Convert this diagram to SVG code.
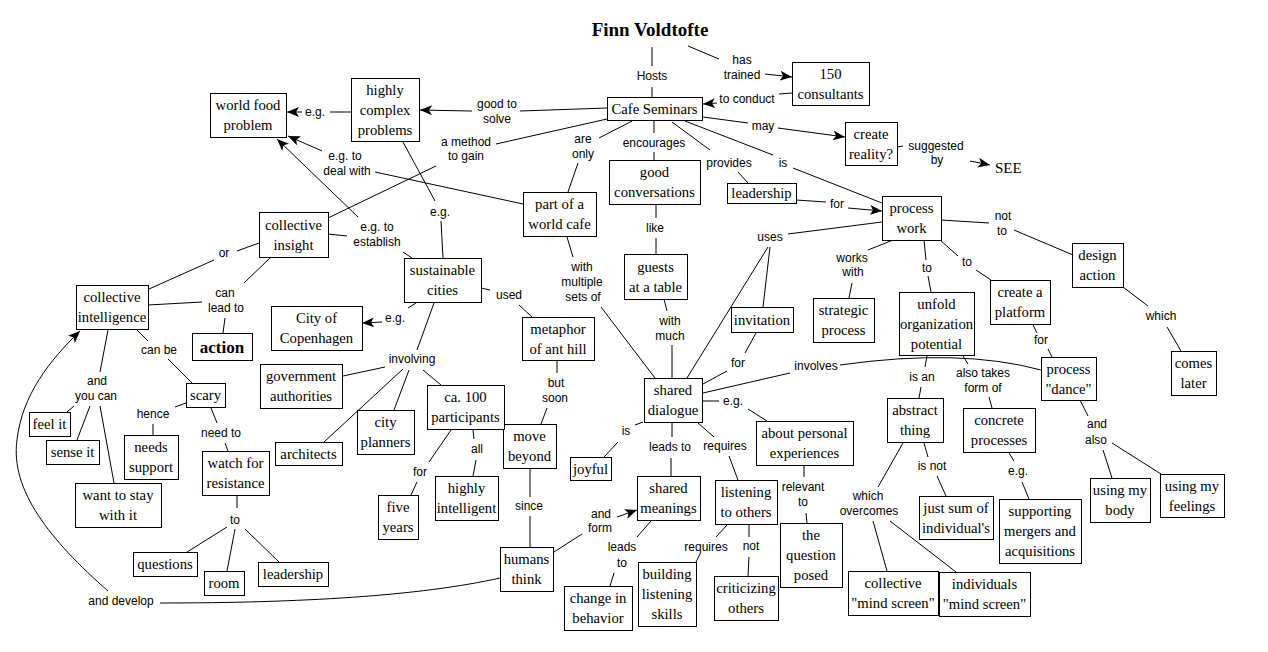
<svg xmlns="http://www.w3.org/2000/svg" width="1268" height="652" viewBox="0 0 1268 652">
<style>
.node rect{fill:#fff;stroke:#000;stroke-width:1;shape-rendering:crispEdges}
.node text{font-family:"Liberation Serif","Times New Roman",serif;font-size:14.7px;text-anchor:middle;fill:#000}
.lab text{font-family:"Liberation Sans",Arial,sans-serif;font-size:12px;text-anchor:middle;fill:#000}
#connectors path{fill:none;stroke:#000;stroke-width:1}
.ar{marker-end:url(#arr)}
</style>
<defs>
<marker id="arr" viewBox="0 0 12 10" refX="12" refY="5" markerWidth="12" markerHeight="10" orient="auto" markerUnits="userSpaceOnUse"><path d="M0,0 L12,5 L0,10 L3,5 z" fill="#000"/></marker>
</defs>
<rect width="1268" height="652" fill="#fff"/>
<g id="connectors">
<path d="M652,47 L652,66"/>
<path d="M652,87 L652,97"/>
<path d="M688,46 L719,59"/>
<path class="ar" d="M765,74 L792,77"/>
<path d="M792,93 L779,94"/>
<path class="ar" d="M717,103 L703,104"/>
<path d="M703,117 L748,123"/>
<path class="ar" d="M778,128 L845,137"/>
<path d="M897,147 L903,146"/>
<path class="ar" d="M970,161 L990,165"/>
<path d="M685,121 L773,155"/>
<path d="M793,168 L882,203"/>
<path d="M672,122 L710,150"/>
<path d="M738,172 L748,183"/>
<path d="M796,200 L826,202"/>
<path class="ar" d="M848,208 L882,211"/>
<path d="M654,121 L654,133"/>
<path d="M654,152 L654,160"/>
<path d="M656,204 L656,218"/>
<path d="M656,238 L656,254"/>
<path d="M664,299 L667,311"/>
<path d="M672,345 L672,378"/>
<path d="M632,121 L599,138"/>
<path d="M578,163 L568,192"/>
<path d="M607,108 L520,111"/>
<path class="ar" d="M472,111 L420,110"/>
<path d="M607,119 L496,144"/>
<path d="M436,166 L328,218"/>
<path d="M403,142 L435,201"/>
<path d="M441,221 L443,258"/>
<path d="M351,112 L330,112"/>
<path class="ar" d="M302,112 L287,112"/>
<path d="M523,204 L375,172"/>
<path class="ar" d="M322,151 L288,136"/>
<path class="ar" d="M358,217 L277,139"/>
<path d="M328,234 L347,236"/>
<path d="M403,252 L412,258"/>
<path d="M259,243 L237,251"/>
<path d="M214,260 L149,289"/>
<path d="M271,257 L244,283"/>
<path d="M148,305 L202,302"/>
<path d="M225,318 L223,333"/>
<path d="M137,330 L148,341"/>
<path d="M168,359 L192,383"/>
<path d="M108,330 L100,372"/>
<path d="M74,406 L67,412"/>
<path d="M90,406 L77,440"/>
<path d="M100,406 L114,483"/>
<path d="M186,403 L175,407"/>
<path d="M153,424 L153,435"/>
<path d="M211,408 L217,423"/>
<path d="M225,443 L228,451"/>
<path d="M237,495 L237,508"/>
<path d="M227,527 L187,552"/>
<path d="M235,529 L227,571"/>
<path d="M245,529 L279,562"/>
<path d="M500,578 C420,596 300,603 160,603"/>
<path class="ar" d="M108,591 C50,540 10,490 17,440 C22,395 50,360 80,331"/>
<path d="M554,552 L582,534"/>
<path class="ar" d="M617,517 L637,510"/>
<path d="M530,468 L530,497"/>
<path d="M530,516 L530,547"/>
<path d="M557,361 L557,373"/>
<path d="M547,408 L541,424"/>
<path d="M481,288 L490,290"/>
<path d="M519,305 L532,317"/>
<path d="M416,303 L408,308"/>
<path class="ar" d="M382,322 L362,323"/>
<path d="M434,303 L417,350"/>
<path d="M385,367 L343,376"/>
<path d="M403,369 L324,442"/>
<path d="M409,370 L394,410"/>
<path d="M423,370 L441,385"/>
<path d="M451,430 L429,462"/>
<path d="M417,482 L411,495"/>
<path d="M473,430 L474,439"/>
<path d="M476,460 L473,476"/>
<path d="M567,237 L573,257"/>
<path d="M601,307 L655,378"/>
<path d="M882,222 L788,234"/>
<path d="M768,247 L687,378"/>
<path d="M770,247 L763,307"/>
<path d="M756,333 L745,353"/>
<path d="M727,371 L703,384"/>
<path d="M703,393 L790,373"/>
<path d="M840,365 Q960,348 1041,370"/>
<path d="M703,401 L719,401"/>
<path d="M748,409 L767,421"/>
<path d="M643,422 L635,425"/>
<path d="M618,442 L604,457"/>
<path d="M672,423 L672,437"/>
<path d="M671,458 L671,476"/>
<path d="M698,423 L714,437"/>
<path d="M729,456 L738,480"/>
<path d="M727,525 L716,537"/>
<path d="M700,554 L696,562"/>
<path d="M749,525 L749,537"/>
<path d="M749,557 L748,576"/>
<path d="M651,521 L637,537"/>
<path d="M614,573 L610,586"/>
<path d="M804,465 L804,477"/>
<path d="M806,513 L807,523"/>
<path d="M893,240 L868,250"/>
<path d="M852,283 L849,298"/>
<path d="M924,240 L926,260"/>
<path d="M928,276 L931,292"/>
<path d="M940,240 L958,256"/>
<path d="M976,270 L991,280"/>
<path d="M941,220 L989,223"/>
<path d="M1014,230 L1073,255"/>
<path d="M1123,287 L1148,306"/>
<path d="M1167,327 L1181,351"/>
<path d="M1033,325 L1037,333"/>
<path d="M1048,349 L1052,357"/>
<path d="M927,356 L925,367"/>
<path d="M921,387 L919,398"/>
<path d="M963,356 L968,364"/>
<path d="M989,397 L992,408"/>
<path d="M924,443 L928,457"/>
<path d="M937,476 L946,496"/>
<path d="M903,443 L878,487"/>
<path d="M873,521 L887,571"/>
<path d="M890,521 L956,572"/>
<path d="M1009,453 L1014,461"/>
<path d="M1022,482 L1029,499"/>
<path d="M1080,400 L1088,416"/>
<path d="M1103,450 L1112,478"/>
<path d="M1112,443 L1161,474"/>
</g>
<g id="labels" class="lab">
<text x="652" y="80">Hosts</text>
<text x="742" y="64">has</text><text x="742" y="79">trained</text>
<text x="747" y="103">to conduct</text>
<text x="763" y="130">may</text>
<text x="936" y="150">suggested</text><text x="937" y="164">by</text>
<text x="783" y="167">is</text>
<text x="729" y="167">provides</text>
<text x="654" y="147">encourages</text>
<text x="583" y="143">are</text><text x="583" y="158">only</text>
<text x="497" y="108">good to</text><text x="497" y="123">solve</text>
<text x="466" y="146">a method</text><text x="466" y="160">to gain</text>
<text x="345" y="160">e.g. to</text><text x="347" y="175">deal with</text>
<text x="315" y="116">e.g.</text>
<text x="377" y="231">e.g. to</text><text x="377" y="246">establish</text>
<text x="440" y="216">e.g.</text>
<text x="224" y="257">or</text>
<text x="225" y="297">can</text><text x="226" y="312">lead to</text>
<text x="395" y="322">e.g.</text>
<text x="509" y="299">used</text>
<text x="412" y="363">involving</text>
<text x="582" y="271">with</text><text x="582" y="286">multiple</text><text x="583" y="301">sets of</text>
<text x="655" y="232">like</text>
<text x="670" y="325">with</text><text x="670" y="340">much</text>
<text x="770" y="241">uses</text>
<text x="738" y="367">for</text>
<text x="816" y="370">involves</text>
<text x="733" y="405">e.g.</text>
<text x="837" y="208">for</text>
<text x="852" y="262">works</text><text x="853" y="276">with</text>
<text x="927" y="272">to</text>
<text x="967" y="266">to</text>
<text x="1003" y="220">not</text><text x="1002" y="235">to</text>
<text x="1161" y="320">which</text>
<text x="1041" y="344">for</text>
<text x="922" y="381">is an</text>
<text x="983" y="377">also takes</text><text x="983" y="392">form of</text>
<text x="932" y="470">is not</text>
<text x="1018" y="475">e.g.</text>
<text x="1097" y="428">and</text><text x="1096" y="444">also</text>
<text x="868" y="500">which</text><text x="869" y="515">overcomes</text>
<text x="803" y="491">relevant</text><text x="803" y="506">to</text>
<text x="725" y="450">requires</text>
<text x="670" y="451">leads to</text>
<text x="626" y="435">is</text>
<text x="706" y="551">requires</text>
<text x="751" y="550">not</text>
<text x="601" y="518">and</text><text x="600" y="532">form</text>
<text x="622" y="551">leads</text><text x="622" y="567">to</text>
<text x="529" y="510">since</text>
<text x="556" y="387">but</text><text x="555" y="402">soon</text>
<text x="477" y="453">all</text>
<text x="420" y="476">for</text>
<text x="97" y="385">and</text><text x="96" y="400">you can</text>
<text x="159" y="354">can be</text>
<text x="153" y="418">hence</text>
<text x="221" y="437">need to</text>
<text x="235" y="524">to</text>
<text x="121" y="605">and develop</text>
</g>
<g id="title"><text x="650" y="36" style="font-family:'Liberation Serif','Times New Roman',serif;font-size:19px;font-weight:bold;text-anchor:middle">Finn Voldtofte</text></g>
<g id="see"><text x="995" y="173" style="font-family:'Liberation Serif','Times New Roman',serif;font-size:15px">SEE</text></g>
<g id="cafe" class="node"><rect x="607" y="97" width="95" height="23"/><text x="654.5" y="113.5">Cafe Seminars</text></g>
<g id="consultants" class="node"><rect x="792" y="62" width="77" height="43"/><text x="830.5" y="78.5">150</text><text x="830.5" y="98.5">consultants</text></g>
<g id="reality" class="node"><rect x="845" y="122" width="52" height="43"/><text x="871" y="138.5">create</text><text x="871" y="158.5">reality?</text></g>
<g id="leadership1" class="node"><rect x="727" y="183" width="69" height="20"/><text x="761.5" y="198">leadership</text></g>
<g id="processwork" class="node"><rect x="882" y="196" width="59" height="44"/><text x="911.5" y="213">process</text><text x="911.5" y="233">work</text></g>
<g id="hcp" class="node"><rect x="351" y="78" width="68" height="63"/><text x="385" y="94.5">highly</text><text x="385" y="114.5">complex</text><text x="385" y="134.5">problems</text></g>
<g id="wfp" class="node"><rect x="210" y="93" width="76" height="44"/><text x="248" y="110">world food</text><text x="248" y="130">problem</text></g>
<g id="cinsight" class="node"><rect x="259" y="212" width="69" height="45"/><text x="293.5" y="229.5">collective</text><text x="293.5" y="249.5">insight</text></g>
<g id="goodconv" class="node"><rect x="609" y="160" width="91" height="44"/><text x="654.5" y="177">good</text><text x="654.5" y="197">conversations</text></g>
<g id="worldcafe" class="node"><rect x="523" y="192" width="73" height="44"/><text x="559.5" y="209">part of a</text><text x="559.5" y="229">world cafe</text></g>
<g id="guests" class="node"><rect x="624" y="254" width="63" height="45"/><text x="655.5" y="271.5">guests</text><text x="655.5" y="291.5">at a table</text></g>
<g id="invitation" class="node"><rect x="731" y="307" width="62" height="25"/><text x="762" y="324.5">invitation</text></g>
<g id="strategic" class="node"><rect x="813" y="298" width="61" height="44"/><text x="843.5" y="315">strategic</text><text x="843.5" y="335">process</text></g>
<g id="unfold" class="node"><rect x="899" y="292" width="75" height="63"/><text x="936.5" y="308.5">unfold</text><text x="936.5" y="328.5">organization</text><text x="936.5" y="348.5">potential</text></g>
<g id="platform" class="node"><rect x="990" y="280" width="60" height="44"/><text x="1020" y="297">create a</text><text x="1020" y="317">platform</text></g>
<g id="design" class="node"><rect x="1072" y="243" width="51" height="44"/><text x="1097.5" y="260">design</text><text x="1097.5" y="280">action</text></g>
<g id="later" class="node"><rect x="1171" y="351" width="45" height="44"/><text x="1193.5" y="368">comes</text><text x="1193.5" y="388">later</text></g>
<g id="dance" class="node"><rect x="1041" y="357" width="55" height="43"/><text x="1068.5" y="373.5">process</text><text x="1068.5" y="393.5">"dance"</text></g>
<g id="abstract" class="node"><rect x="887" y="398" width="56" height="44"/><text x="915" y="415">abstract</text><text x="915" y="435">thing</text></g>
<g id="concrete" class="node"><rect x="963" y="408" width="72" height="44"/><text x="999" y="425">concrete</text><text x="999" y="445">processes</text></g>
<g id="body" class="node"><rect x="1090" y="478" width="60" height="44"/><text x="1120" y="495">using my</text><text x="1120" y="515">body</text></g>
<g id="feelings" class="node"><rect x="1160" y="474" width="64" height="43"/><text x="1192" y="490.5">using my</text><text x="1192" y="510.5">feelings</text></g>
<g id="mergers" class="node"><rect x="999" y="499" width="82" height="64"/><text x="1040" y="516">supporting</text><text x="1040" y="536">mergers and</text><text x="1040" y="556">acquisitions</text></g>
<g id="sum" class="node"><rect x="919" y="496" width="74" height="43"/><text x="956" y="512.5">just sum of</text><text x="956" y="532.5">individual's</text></g>
<g id="indiv" class="node"><rect x="939" y="572" width="91" height="44"/><text x="984.5" y="589">individuals</text><text x="984.5" y="609">"mind screen"</text></g>
<g id="colmind" class="node"><rect x="848" y="571" width="90" height="44"/><text x="893" y="588">collective</text><text x="893" y="608">"mind screen"</text></g>
<g id="personal" class="node"><rect x="756" y="421" width="97" height="44"/><text x="804.5" y="438">about personal</text><text x="804.5" y="458">experiences</text></g>
<g id="question" class="node"><rect x="780" y="523" width="62" height="64"/><text x="811" y="540">the</text><text x="811" y="560">question</text><text x="811" y="580">posed</text></g>
<g id="listening" class="node"><rect x="715" y="480" width="62" height="44"/><text x="746" y="497">listening</text><text x="746" y="517">to others</text></g>
<g id="criticizing" class="node"><rect x="714" y="576" width="64" height="44"/><text x="746" y="593">criticizing</text><text x="746" y="613">others</text></g>
<g id="building" class="node"><rect x="638" y="562" width="58" height="64"/><text x="667" y="579">building</text><text x="667" y="599">listening</text><text x="667" y="619">skills</text></g>
<g id="meanings" class="node"><rect x="637" y="476" width="63" height="44"/><text x="668.5" y="493">shared</text><text x="668.5" y="513">meanings</text></g>
<g id="dialogue" class="node"><rect x="644" y="378" width="58" height="44"/><text x="673" y="395">shared</text><text x="673" y="415">dialogue</text></g>
<g id="joyful" class="node"><rect x="570" y="457" width="41" height="23"/><text x="590.5" y="473.5">joyful</text></g>
<g id="behavior" class="node"><rect x="564" y="586" width="68" height="44"/><text x="598" y="603">change in</text><text x="598" y="623">behavior</text></g>
<g id="humans" class="node"><rect x="500" y="547" width="53" height="44"/><text x="526.5" y="564">humans</text><text x="526.5" y="584">think</text></g>
<g id="beyond" class="node"><rect x="503" y="424" width="53" height="44"/><text x="529.5" y="441">move</text><text x="529.5" y="461">beyond</text></g>
<g id="intelligent" class="node"><rect x="435" y="476" width="63" height="44"/><text x="466.5" y="493">highly</text><text x="466.5" y="513">intelligent</text></g>
<g id="five" class="node"><rect x="378" y="495" width="40" height="44"/><text x="398" y="512">five</text><text x="398" y="532">years</text></g>
<g id="participants" class="node"><rect x="427" y="385" width="77" height="44"/><text x="465.5" y="402">ca. 100</text><text x="465.5" y="422">participants</text></g>
<g id="planners" class="node"><rect x="357" y="410" width="57" height="44"/><text x="385.5" y="427">city</text><text x="385.5" y="447">planners</text></g>
<g id="architects" class="node"><rect x="275" y="442" width="67" height="23"/><text x="308.5" y="458.5">architects</text></g>
<g id="gov" class="node"><rect x="260" y="364" width="82" height="44"/><text x="301" y="381">government</text><text x="301" y="401">authorities</text></g>
<g id="copenhagen" class="node"><rect x="271" y="306" width="91" height="44"/><text x="316.5" y="323">City of</text><text x="316.5" y="343">Copenhagen</text></g>
<g id="sustainable" class="node"><rect x="404" y="258" width="77" height="44"/><text x="442.5" y="275">sustainable</text><text x="442.5" y="295">cities</text></g>
<g id="anthill" class="node"><rect x="522" y="317" width="72" height="43"/><text x="558" y="333.5">metaphor</text><text x="558" y="353.5">of ant hill</text></g>
<g id="cintel" class="node"><rect x="76" y="285" width="72" height="44"/><text x="112" y="302">collective</text><text x="112" y="322">intelligence</text></g>
<g id="action" class="node"><rect x="192" y="333" width="60" height="27"/><text x="222" y="352.5" style="font-weight:bold;font-size:17px">action</text></g>
<g id="scary" class="node"><rect x="186" y="383" width="39" height="24"/><text x="205.5" y="400">scary</text></g>
<g id="feel" class="node"><rect x="29" y="412" width="41" height="24"/><text x="49.5" y="429">feel it</text></g>
<g id="sense" class="node"><rect x="46" y="440" width="53" height="24"/><text x="72.5" y="457">sense it</text></g>
<g id="support" class="node"><rect x="124" y="435" width="54" height="44"/><text x="151" y="452">needs</text><text x="151" y="472">support</text></g>
<g id="watch" class="node"><rect x="202" y="451" width="67" height="44"/><text x="235.5" y="468">watch for</text><text x="235.5" y="488">resistance</text></g>
<g id="stay" class="node"><rect x="75" y="483" width="86" height="44"/><text x="118" y="500">want to stay</text><text x="118" y="520">with it</text></g>
<g id="questions" class="node"><rect x="133" y="552" width="64" height="24"/><text x="165" y="569">questions</text></g>
<g id="room" class="node"><rect x="204" y="571" width="40" height="24"/><text x="224" y="588">room</text></g>
<g id="leadership2" class="node"><rect x="258" y="562" width="70" height="24"/><text x="293" y="579">leadership</text></g>
</svg>
